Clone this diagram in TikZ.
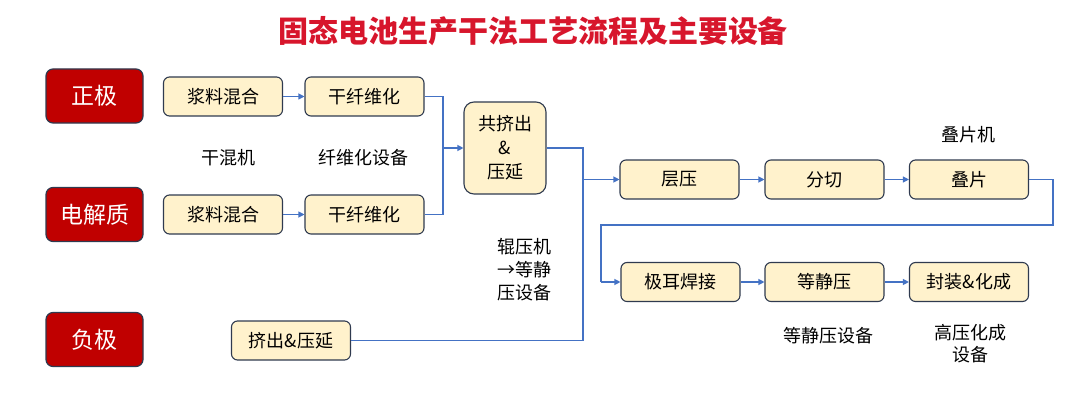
\documentclass[tikz,border=0pt]{standalone}
\usepackage{fontspec}
\setmainfont{Noto Sans CJK SC}
\usetikzlibrary{arrows.meta}
\definecolor{titlered}{HTML}{D7162C}
\definecolor{boxred}{HTML}{C00000}
\definecolor{boxfill}{HTML}{FFF2CC}
\definecolor{boxline}{HTML}{2F3A4F}
\definecolor{linkblue}{HTML}{4472C4}
\tikzset{
  redbox/.style={draw=boxline, line width=1.2pt, fill=boxred, rounded corners=7pt, text=white,
    minimum width=97pt, minimum height=54pt, inner sep=0pt, font=\fontsize{23}{26}\selectfont},
  stepbox/.style={draw=boxline, line width=1.1pt, fill=boxfill, rounded corners=6pt,
    minimum width=119pt, minimum height=39pt, inner sep=0pt, font=\fontsize{18}{20}\selectfont},
  lbl/.style={font=\fontsize{18}{22}\selectfont, align=center, inner sep=0pt},
  link/.style={draw=linkblue, line width=1.1pt},
  arr/.style={link, -{Triangle[length=6pt,width=6pt]}}
}
\begin{document}
\begin{tikzpicture}[x=1pt,y=-1pt]
\useasboundingbox (0,0) rectangle (1080,396);
\node[text=titlered, font=\fontsize{30}{34}\selectfont\bfseries] (title) at (533,31) {固态电池生产干法工艺流程及主要设备};

\node[redbox] (zj) at (94.5,96) {正极};
\node[redbox] (dj) at (94.5,214.5) {电解质};
\node[redbox] (fj) at (94.5,339.5) {负极};

\node[stepbox] (m1) at (223,96.5) {浆料混合};
\node[stepbox] (f1) at (364.5,96.5) {干纤维化};
\node[stepbox] (m2) at (223,214.5) {浆料混合};
\node[stepbox] (f2) at (364.5,214.5) {干纤维化};
\node[lbl] (l1) at (228,158) {干混机};
\node[lbl] (l2) at (363,158) {纤维化设备};

\node[stepbox, minimum width=82pt, minimum height=92pt, rounded corners=10pt, align=center,
  font=\fontsize{18}{24}\selectfont] (gj) at (505,148) {共挤出\\\&\\压延};

\node[stepbox] (cy) at (679.5,179.5) {层压};
\node[stepbox] (fq) at (824.5,179.5) {分切};
\node[stepbox] (dp) at (969,179.5) {叠片};
\node[lbl] (l3) at (968,135) {叠片机};

\node[stepbox] (je) at (680.5,282) {极耳焊接};
\node[stepbox] (dy) at (824.5,282) {等静压};
\node[stepbox] (fz) at (969,282) {封装\&化成};
\node[lbl] (l4) at (828,336) {等静压设备};
\node[lbl] (l5) at (970,344) {高压化成\\设备};
\node[lbl, font=\fontsize{18}{23}\selectfont] (l6) at (524,270) {辊压机\\→等静\\压设备};

\node[stepbox] (jc) at (291,340.5) {挤出\&压延};

\coordinate (j1) at (443,96.5);
\coordinate (j2) at (443,214.5);
\coordinate (j3) at (443,148);
\coordinate (k1) at (583,148);
\coordinate (k2) at (583,179.5);
\coordinate (k3) at (583,340.5);
\coordinate (d1) at (1053,179.5);
\coordinate (d2) at (1053,225);
\coordinate (d3) at (601,225);
\coordinate (d4) at (601,282);

\draw[arr] (m1) -- (f1);
\draw[arr] (m2) -- (f2);
\draw[link] (f1.east) -- (j1) -- (j2) -- (f2.east);
\draw[arr] (j3) -- (gj.west);
\draw[link] (gj.east) -- (k1) -- (k3) -- (jc.east);
\draw[arr] (k2) -- (cy.west);
\draw[arr] (cy) -- (fq);
\draw[arr] (fq) -- (dp);
\draw[link] (dp.east) -- (d1) -- (d2) -- (d3) -- (d4);
\draw[arr] (d4) -- (je.west);
\draw[arr] (je) -- (dy);
\draw[arr] (dy) -- (fz);
\end{tikzpicture}
\end{document}
